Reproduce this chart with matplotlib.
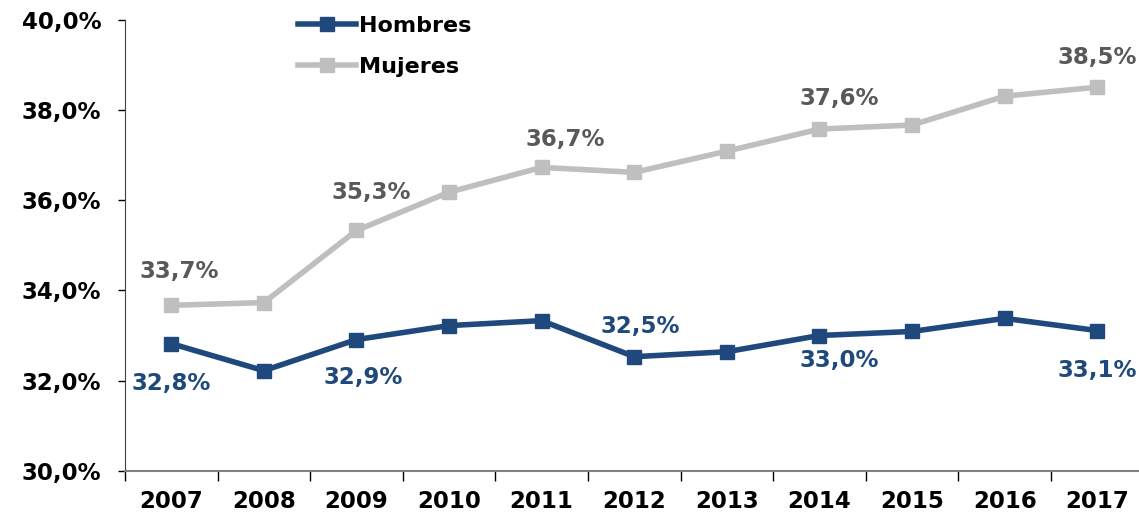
import matplotlib
matplotlib.use("Agg")
import matplotlib.pyplot as plt

years = ["2007", "2008", "2009", "2010", "2011", "2012", "2013", "2014", "2015", "2016", "2017"]
hombres = [32.82, 32.22, 32.91, 33.22, 33.33, 32.53, 32.64, 33.00, 33.09, 33.38, 33.11]
mujeres = [33.67, 33.73, 35.33, 36.18, 36.73, 36.62, 37.09, 37.58, 37.67, 38.31, 38.51]

# which points carry a value label, and where (points offset)
h_labels = {0: (0, -29), 2: (5, -27), 5: (4, 22), 7: (14, -18), 10: (0, -29)}
m_labels = {0: (6, 24), 2: (11, 27), 4: (17, 20), 7: (14, 22), 10: (0, 21)}

blue = "#1F497D"
grey = "#BFBFBF"
label_grey = "#595959"

plt.rcParams["font.family"] = ["DejaVu Sans"]
plt.rcParams["font.weight"] = "bold"

fig = plt.figure(figsize=(11.39, 5.17), dpi=100)
ax = fig.add_axes([0.1097, 0.0895, 0.8943, 0.8718])

x = range(len(years))
ax.plot(x, hombres, color=blue, lw=4, marker="s", ms=10.5, label="Hombres", zorder=3)
ax.plot(x, mujeres, color=grey, lw=4, marker="s", ms=10.5, label="Mujeres", zorder=3)

def pct(v):
    return f"{v:.1f}%".replace(".", ",")

for i, off in h_labels.items():
    ax.annotate(pct(hombres[i]), (i, hombres[i]), xytext=off, textcoords="offset points",
                ha="center", va="center", color=blue, fontsize=16.5, fontweight="bold")
for i, off in m_labels.items():
    ax.annotate(pct(mujeres[i]), (i, mujeres[i]), xytext=off, textcoords="offset points",
                ha="center", va="center", color=label_grey, fontsize=16.5, fontweight="bold")

ax.set_xlim(-0.5, len(years) - 0.5)
ax.set_ylim(30, 40)
yt = [30, 32, 34, 36, 38, 40]
ax.set_yticks(yt)
ax.set_yticklabels([pct(v) for v in yt], fontsize=16.5, fontweight="bold")

ax.set_xticks(list(x))
ax.set_xticklabels(years, fontsize=16.5, fontweight="bold")
ax.tick_params(axis="x", which="major", length=0, pad=14)
ax.set_xticks([i + 0.5 for i in range(-1, len(years))], minor=True)
ax.tick_params(axis="x", which="minor", length=7, width=1, direction="out")
ax.tick_params(axis="y", length=5, width=1, direction="out", pad=12)

for s in ["top", "right"]:
    ax.spines[s].set_visible(False)
ax.spines["left"].set_color("#404040")
ax.spines["bottom"].set_color("#808080")
ax.spines["bottom"].set_linewidth(1.5)

ax.legend(loc="upper left", bbox_to_anchor=(0.15, 1.053), frameon=False,
          handlelength=2.6, labelspacing=0.95, handletextpad=0.15,
          prop={"weight": "bold", "size": 16})

fig.savefig("out.png", dpi=100)
